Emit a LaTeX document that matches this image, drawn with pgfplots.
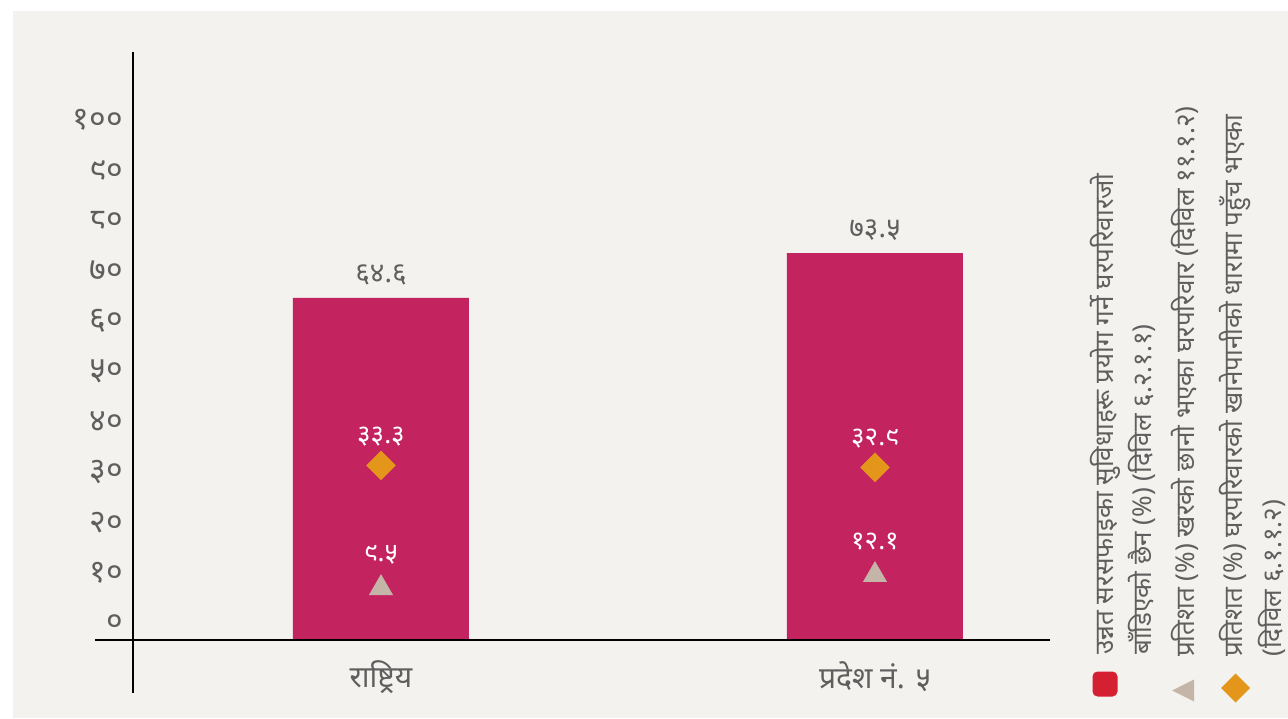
\documentclass[border=0pt]{standalone}
\usepackage{pgfplots}
\pgfplotsset{compat=1.18}
\usepackage{fontspec}
\setmainfont[Script=Devanagari]{Noto Sans}
\newfontfamily\nep[Script=Devanagari, Language=Nepali]{Noto Sans}
\definecolor{bgc}{RGB}{243,242,238}
\definecolor{barc}{RGB}{195,36,96}
\definecolor{diac}{RGB}{228,150,26}
\definecolor{tric}{RGB}{197,181,168}
\definecolor{legred}{RGB}{212,32,48}
\definecolor{txtc}{RGB}{95,95,95}
\begin{document}
\begin{tikzpicture}[x=1pt,y=1pt]
\useasboundingbox (0,0) rectangle (1288,718);
\fill[white] (0,0) rectangle (1288,718);
\fill[bgc] (13,0) rectangle (1288,707);
\begin{axis}[
  at={(133pt,78pt)}, anchor=south west,
  scale only axis, width=917pt, height=588pt,
  xmin=0.498, xmax=2.3543, ymin=0, ymax=116.9,
  y filter/.expression={y+3.4},
  axis line style={draw=none},
  clip=false,
  major tick length=0pt,
  ytick={3.4,13.4,23.4,33.4,43.4,53.4,63.4,73.4,83.4,93.4,103.4},
  yticklabels={०,१०,२०,३०,४०,५०,६०,७०,८०,९०,१००},
  xtick={1,2},
  xticklabels={राष्ट्रिय,{\nep प्रदेश नं. ५}},
  yticklabel style={font=\nep\fontsize{32}{36}\selectfont, text=txtc, inner sep=0pt, xshift=-10pt},
  xticklabel style={font=\fontsize{30}{34}\selectfont, text=txtc, anchor=center, inner sep=0pt, yshift=-37pt},
]
\addplot[ybar, bar width=176pt, fill=barc, draw=none,
  nodes near coords, point meta=explicit symbolic,
  nodes near coords style={font=\nep\fontsize{28}{32}\selectfont\bfseries, text=txtc, anchor=center, yshift=23pt}]
  coordinates {(1,64.6) [६४.६] (2,73.5) [७३.५]};
\addplot[only marks, mark=square*, mark size=10.2pt, color=diac,
  mark options={yshift=-10pt, rotate=45},
  nodes near coords, point meta=explicit symbolic,
  nodes near coords style={font=\nep\fontsize{26}{30}\selectfont, text=white, anchor=center, yshift=29pt}]
  coordinates {(1,33.3) [३३.३] (2,32.9) [३२.९]};
\addplot[only marks, mark=triangle*, mark size=13.5pt, color=tric,
  mark options={yshift=-13pt},
  nodes near coords, point meta=explicit symbolic,
  nodes near coords style={font=\nep\fontsize{26}{30}\selectfont, text=white, anchor=center, yshift=33pt}]
  coordinates {(1,9.5) [९.५] (2,12.1) [१२.१]};
\end{axis}
% axis lines
\draw[line width=2.6pt, black] (95,78) -- (1050,78);
\draw[line width=2.6pt, black] (133,666) -- (133,25);
% legend
\fill[legred, rounded corners=5pt] (1092.5,21.5) rectangle (1117.5,46.5);
\fill[tric] (1172,27.5) -- (1194,16.5) -- (1194,38.5) -- cycle;
\fill[diac] (1235.5,15.5) -- (1250,30) -- (1235.5,44.5) -- (1221,30) -- cycle;
\begin{scope}[every node/.style={rotate=90, anchor=west, inner sep=0pt, text=txtc, font=\nep\fontsize{26}{30}\selectfont}]
\node at (1105,63) {उन्नत सरसफाइका सुविधाहरू प्रयोग गर्ने घरपरिवारजो};
\node at (1142,63) {बाँडिएको छैन (\%) (दिविल ६.२.१.१)};
\node at (1185,61) {प्रतिशत (\%) खरको छानो भएका घरपरिवार (दिविल ११.१.२)};
\node at (1235,61) {प्रतिशत (\%) घरपरिवारको खानेपानीको धारामा पहुँच भएका};
\node at (1272,61) {(दिविल ६.१.१.२)};
\end{scope}
\end{tikzpicture}
\end{document}
